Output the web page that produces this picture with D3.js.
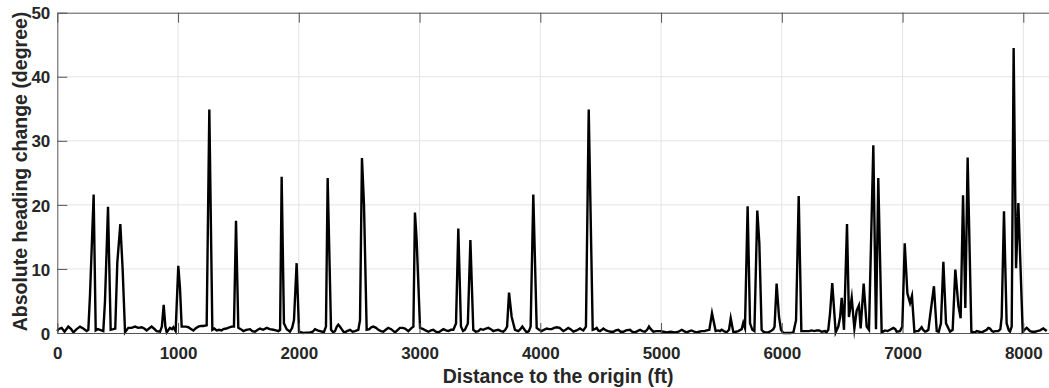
<!DOCTYPE html>
<html>
<head>
<meta charset="utf-8">
<script src="https://cdn.jsdelivr.net/npm/d3@7"></script>
<style>
  body { margin: 0; background: #fff; }
  svg { display: block; }
  text { font-family: "Liberation Sans", Arial, Helvetica, sans-serif; font-weight: bold; fill: #262626; }
</style>
</head>
<body>
<svg id="chart" width="1049" height="388"></svg>
<script>
// distance along the route (ft) and absolute heading change (degree)
const distance = [
  0, 9, 36, 60, 91, 115, 133, 160, 188, 215, 243, 257, 271, 301, 318, 335, 354, 381, 395, 420,
  442, 464, 480, 497, 522, 541, 561, 588, 615, 644, 670, 699, 720, 740, 760, 781, 800, 823, 851, 866,
  881, 895, 906, 933, 950, 961, 980, 1002, 1016, 1030, 1044, 1065, 1085, 1110, 1127, 1150, 1168, 1190, 1209, 1237,
  1259, 1284, 1300, 1320, 1340, 1361, 1375, 1400, 1430, 1444, 1463, 1480, 1499, 1520, 1541, 1565, 1596, 1615, 1637, 1660,
  1679, 1705, 1734, 1760, 1789, 1810, 1831, 1845, 1858, 1877, 1900, 1927, 1945, 1960, 1982, 2002, 2020, 2038, 2060, 2093,
  2115, 2134, 2155, 2176, 2195, 2209, 2225, 2239, 2267, 2285, 2300, 2315, 2327, 2340, 2355, 2370, 2383, 2400, 2424, 2445,
  2465, 2480, 2493, 2507, 2523, 2540, 2562, 2585, 2600, 2617, 2640, 2659, 2680, 2700, 2720, 2741, 2765, 2797, 2820, 2838,
  2860, 2880, 2907, 2935, 2949, 2962, 2976, 3004, 3031, 3050, 3073, 3095, 3114, 3135, 3156, 3175, 3197, 3220, 3238, 3260,
  3280, 3302, 3321, 3343, 3360, 3376, 3400, 3421, 3445, 3465, 3487, 3505, 3528, 3550, 3570, 3590, 3611, 3630, 3652, 3675,
  3694, 3710, 3725, 3741, 3763, 3790, 3818, 3835, 3851, 3870, 3887, 3905, 3920, 3942, 3970, 3990, 4011, 4030, 4053, 4075,
  4094, 4115, 4136, 4160, 4191, 4210, 4232, 4250, 4274, 4300, 4329, 4345, 4356, 4378, 4401, 4434, 4450, 4467, 4480, 4494,
  4510, 4522, 4545, 4563, 4585, 4605, 4625, 4646, 4665, 4688, 4710, 4743, 4760, 4784, 4805, 4826, 4845, 4867, 4885, 4900,
  4915, 4936, 4960, 4991, 5020, 5047, 5080, 5116, 5145, 5171, 5190, 5212, 5235, 5254, 5275, 5295, 5315, 5336, 5360, 5378,
  5400, 5422, 5452, 5474, 5488, 5502, 5520, 5543, 5563, 5577, 5599, 5620, 5640, 5668, 5681, 5695, 5717, 5737, 5756, 5773,
  5797, 5814, 5833, 5847, 5865, 5888, 5910, 5930, 5940, 5957, 5977, 5993, 6013, 6035, 6054, 6075, 6096, 6118, 6140, 6162,
  6185, 6206, 6225, 6247, 6270, 6289, 6310, 6330, 6358, 6370, 6385, 6399, 6418, 6446, 6468, 6483, 6496, 6515, 6540, 6556,
  6579, 6601, 6620, 6639, 6653, 6678, 6703, 6722, 6758, 6780, 6799, 6827, 6855, 6876, 6896, 6924, 6940, 6951, 6979, 6998,
  7018, 7040, 7062, 7078, 7098, 7115, 7131, 7145, 7158, 7170, 7186, 7200, 7214, 7227, 7260, 7283, 7300, 7318, 7338, 7360,
  7393, 7415, 7437, 7462, 7481, 7501, 7520, 7539, 7570, 7600, 7614, 7635, 7655, 7675, 7697, 7710, 7724, 7740, 7752, 7770,
  7793, 7810, 7821, 7840, 7862, 7880, 7890, 7904, 7920, 7940, 7959, 7995, 8010, 8028, 8040, 8055, 8075, 8097, 8115, 8138,
  8155, 8166, 8180, 8194
];
const heading = [
  0.3, 0.6, 0.8, 0.2, 1.0, 0.6, 0.1, 0.6, 1.0, 0.7, 0.3, 0.5, 6.0, 21.6, 0.4, 0.6, 0.5, 0.3, 5.0, 19.7,
  0.5, 0.6, 0.7, 11.0, 17.0, 10.0, 0.1, 0.8, 0.8, 1.0, 0.8, 0.9, 0.7, 0.4, 0.7, 1.0, 0.7, 0.3, 0.2, 1.0,
  4.4, 1.0, 0.1, 0.8, 0.6, 0.9, 0.3, 10.5, 7.0, 1.0, 1.0, 1.0, 0.9, 0.6, 0.4, 0.8, 1.0, 1.1, 1.1, 1.2,
  34.9, 0.5, 0.7, 0.4, 0.5, 0.4, 0.6, 0.7, 0.9, 1.0, 1.0, 17.5, 0.8, 0.6, 0.3, 0.5, 0.6, 0.3, 0.2, 0.5,
  0.7, 0.5, 0.8, 0.6, 0.5, 0.4, 0.3, 0.5, 24.4, 1.5, 0.6, 0.2, 0.8, 2.0, 10.9, 0.2, 0.1, 0.0, 0.05, 0.1,
  0.2, 0.6, 0.4, 0.3, 0.2, 0.2, 1.0, 24.2, 0.5, 0.1, 0.3, 1.0, 1.3, 1.0, 0.6, 0.2, 0.1, 0.3, 0.5, 0.2,
  0.3, 0.4, 0.5, 2.0, 27.3, 20.0, 0.5, 0.6, 0.9, 1.0, 0.8, 0.5, 0.3, 0.2, 0.5, 0.8, 0.6, 0.1, 0.5, 0.8,
  0.8, 0.7, 0.3, 0.8, 1.0, 18.8, 14.5, 0.8, 0.6, 0.4, 0.2, 0.4, 0.5, 0.2, 0.1, 0.3, 0.6, 0.4, 0.3, 0.5,
  0.5, 1.5, 16.3, 1.0, 0.3, 0.5, 1.5, 14.5, 0.5, 0.2, 0.3, 0.6, 0.5, 0.7, 0.8, 0.6, 0.3, 0.4, 0.5, 0.3,
  0.2, 0.5, 1.0, 6.3, 2.5, 0.5, 0.3, 0.6, 1.0, 0.5, 0.1, 0.3, 1.0, 21.6, 0.8, 0.5, 0.3, 0.5, 0.7, 0.6,
  0.6, 0.8, 0.9, 0.8, 0.3, 0.5, 0.8, 0.6, 0.2, 0.4, 0.7, 0.5, 0.4, 1.0, 34.9, 0.5, 0.6, 0.8, 0.4, 0.3,
  0.5, 0.7, 0.4, 0.3, 0.2, 0.2, 0.4, 0.5, 0.2, 0.2, 0.4, 0.5, 0.2, 0.1, 0.3, 0.5, 0.3, 0.2, 0.5, 1.0,
  0.6, 0.2, 0.3, 0.3, 0.2, 0.1, 0.2, 0.1, 0.2, 0.5, 0.3, 0.1, 0.3, 0.4, 0.2, 0.1, 0.2, 0.3, 0.3, 0.4,
  0.5, 3.1, 0.3, 0.4, 0.3, 0.5, 0.3, 0.1, 0.5, 2.3, 0.1, 0.2, 0.3, 0.6, 1.6, 0.8, 19.8, 1.5, 0.5, 0.3,
  19.1, 14.0, 0.5, 0.2, 0.1, 0.1, 0.3, 0.6, 1.0, 7.7, 2.5, 0.5, 0.0, 0.0, 0.0, 0.0, 0.1, 2.0, 21.4, 0.3,
  0.3, 0.3, 0.3, 0.4, 0.3, 0.4, 0.4, 0.2, 0.3, 0.1, 0.5, 3.0, 7.8, 0.1, 1.0, 2.5, 5.5, 0.5, 17.0, 2.5,
  5.5, 0.7, 3.5, 4.3, 0.7, 7.7, 1.0, 0.5, 29.3, 0.6, 24.2, 0.1, 0.4, 0.3, 0.5, 0.8, 0.6, 0.2, 0.3, 1.0,
  14.0, 6.2, 4.7, 5.8, 0.2, 0.3, 0.3, 0.6, 0.9, 0.5, 0.2, 0.3, 0.5, 2.5, 7.3, 0.3, 0.2, 1.5, 11.1, 1.5,
  0.2, 0.5, 9.9, 4.3, 2.3, 21.5, 3.9, 27.4, 0.2, 0.1, 0.3, 0.2, 0.1, 0.3, 0.5, 0.8, 0.7, 0.3, 0.2, 0.3,
  0.3, 0.6, 2.5, 19.0, 1.5, 0.4, 0.2, 1.0, 44.5, 10.1, 20.3, 0.2, 0.5, 0.8, 0.6, 0.3, 0.2, 0.2, 0.3, 0.4,
  0.6, 0.7, 0.5, 0.3
];
const xTicks = [0, 1000, 2000, 3000, 4000, 5000, 6000, 7000, 8000];
const yTicks = [0, 10, 20, 30, 40, 50];

const svg = d3.select("#chart");
const plotLeft = 57.3, plotTop = 12.7, plotBottom = 333;

const x = d3.scaleLinear().domain([0, 8300]).range([plotLeft, plotLeft + 8.3 * 120.75]);
const y = d3.scaleLinear().domain([0, 50]).range([plotBottom, plotTop]);
const plotRight = x.range()[1];

// grid
svg.append("g")
  .selectAll("line")
  .data(xTicks.slice(1))
  .join("line")
  .attr("x1", d => x(d)).attr("x2", d => x(d))
  .attr("y1", plotTop).attr("y2", plotBottom)
  .attr("stroke", "#e3e3e3").attr("stroke-width", 1);
svg.append("g")
  .selectAll("line")
  .data(yTicks.slice(1, -1))
  .join("line")
  .attr("x1", plotLeft).attr("x2", plotRight)
  .attr("y1", d => y(d)).attr("y2", d => y(d))
  .attr("stroke", "#e3e3e3").attr("stroke-width", 1);

// data line
const pts = distance.map((d, i) => [d, heading[i]]);
svg.append("path")
  .datum(pts)
  .attr("fill", "none")
  .attr("stroke", "#000")
  .attr("stroke-width", 2.4)
  .attr("stroke-linejoin", "miter")
  .attr("stroke-miterlimit", 10)
  .attr("d", d3.line().x(d => x(d[0])).y(d => y(d[1])));

// axes (inward ticks, box on)
const fmt = d3.format("d");
const xAxis = svg.append("g")
  .attr("transform", `translate(0,${plotBottom})`)
  .call(d3.axisBottom(x).tickValues(xTicks).tickFormat(fmt).tickSizeInner(-10).tickSizeOuter(0).tickPadding(14));
const xTop = svg.append("g")
  .attr("transform", `translate(0,${plotTop})`)
  .call(d3.axisTop(x).tickValues(xTicks).tickSizeInner(-10).tickSizeOuter(0).tickFormat(""));
const yAxis = svg.append("g")
  .attr("transform", `translate(${plotLeft},0)`)
  .call(d3.axisLeft(y).tickValues(yTicks).tickFormat(fmt).tickSizeInner(-10).tickSizeOuter(0).tickPadding(7));

[xAxis, xTop, yAxis].forEach(g => {
  g.select(".domain").attr("stroke", "#555").attr("stroke-width", 1);
  g.selectAll(".tick line").attr("stroke", "#555").attr("stroke-width", 1);
  g.selectAll(".tick text").attr("font-size", 17).attr("fill", "#262626")
    .style("font-family", "'Liberation Sans', Arial, sans-serif").style("font-weight", "bold");
});
xAxis.selectAll(".tick text").attr("dy", "0.71em");
yAxis.selectAll(".tick text").attr("dy", "0.36em");

// labels
svg.append("text")
  .attr("x", 558).attr("y", 383)
  .attr("text-anchor", "middle")
  .attr("font-size", 19.5)
  .text("Distance to the origin (ft)");
svg.append("text")
  .attr("transform", "translate(27,171.5) rotate(-90)")
  .attr("text-anchor", "middle")
  .attr("font-size", 19.5)
  .text("Absolute heading change (degree)");
</script>
</body>
</html>
